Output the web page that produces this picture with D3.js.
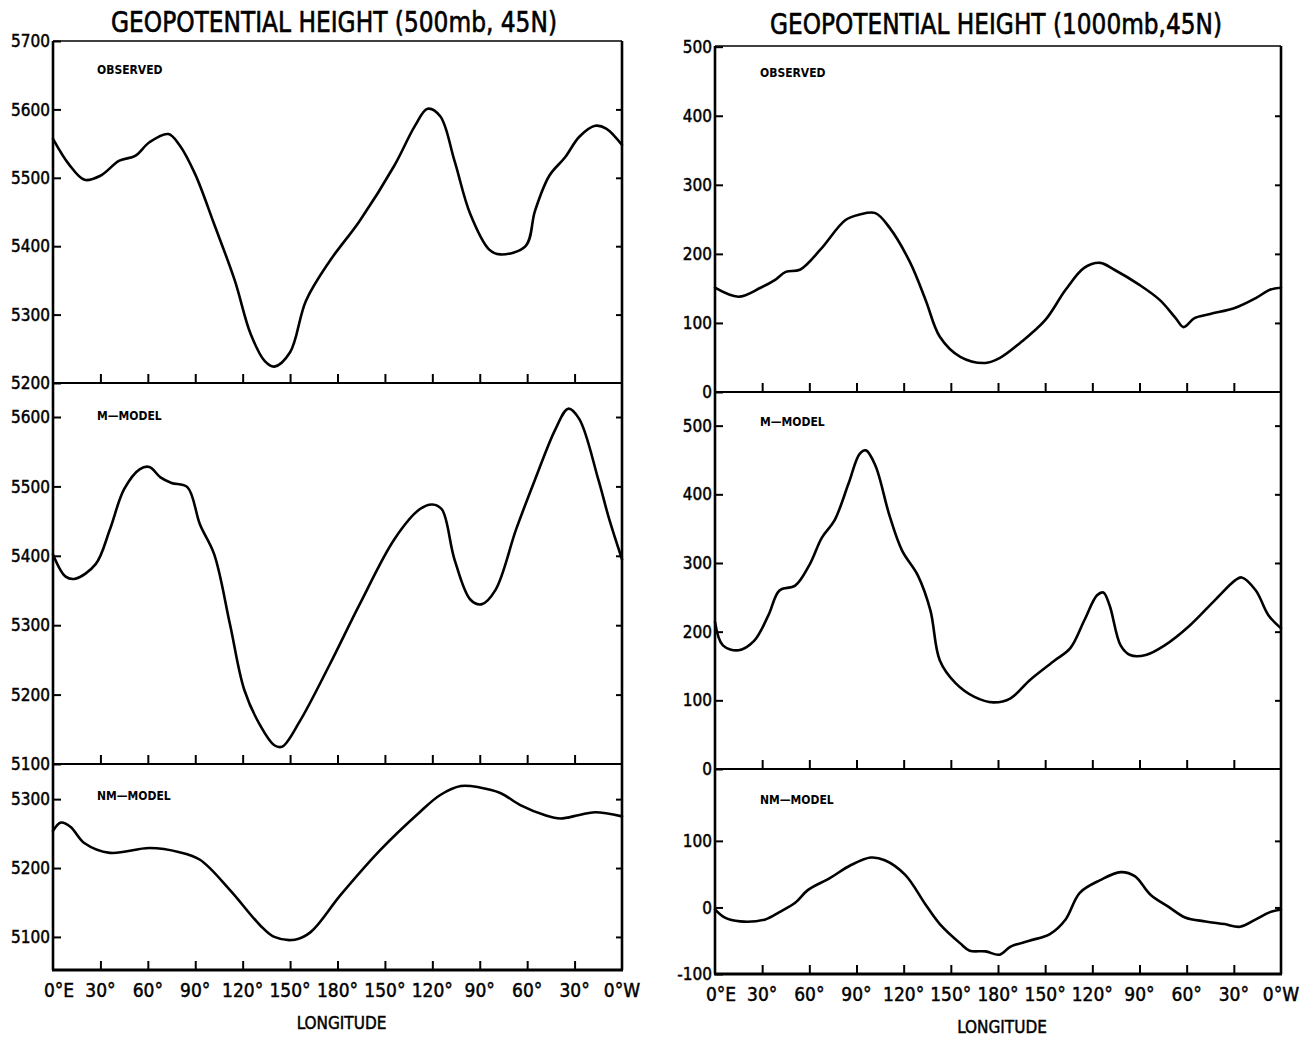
<!DOCTYPE html>
<html>
<head>
<meta charset="utf-8">
<script src="https://cdn.jsdelivr.net/npm/d3@7"></script>
<style>
  html, body { margin: 0; padding: 0; background: #fff; }
  svg { display: block; }
  .num { font-family: "Liberation Sans Narrow", "DejaVu Sans Condensed", "Arial Narrow", sans-serif; fill: #000; stroke: #000; stroke-width: 0.45px; }
  .ttl { font-family: "Liberation Sans Narrow", "DejaVu Sans Condensed", sans-serif; fill: #000; stroke: #000; stroke-width: 0.6px; }
  .lbl { font-family: "DejaVu Sans Condensed", "Liberation Sans Narrow", sans-serif; font-weight: bold; fill: #000; }
</style>
</head>
<body>
<svg id="chart" width="1312" height="1039"></svg>
<script>
// ---- longitude axis -------------------------------------------------------
// Longitude measured eastward from Greenwich, 0..360 degrees.
const lonTicks = [0, 30, 60, 90, 120, 150, 180, 210, 240, 270, 300, 330, 360];
const lonTickLabels = ["0°E", "30°", "60°", "90°", "120°", "150°", "180°", "150°", "120°", "90°", "60°", "30°", "0°W"];

// ---- 500 mb geopotential height (m) at 45N -----------------------------------
const obs500 = [[0,5557],[10,5520],[20,5497],[30,5503],[42,5525],[52,5532],[61,5552],[73,5564],[80,5548],[90,5505],
  [102,5432],[115,5350],[125,5272],[134,5232],[140,5224],[150,5245],[160,5320],[175,5378],[194,5437],[216,5518],
  [229,5576],[237,5601],[245,5590],[254,5525],[264,5447],[276,5395],[283,5388],[299,5400],[305,5452],[314,5503],
  [324,5530],[333,5560],[343,5576],[350,5572],[360,5548]];
const mModel500 = [[0,5402],[8,5370],[14,5367],[27,5388],[36,5438],[45,5496],[55,5525],[61,5528],[68,5513],[75,5505],
  [85,5499],[93,5445],[102,5402],[112,5301],[121,5207],[131,5156],[140,5127],[145,5125],[156,5161],[175,5243],
  [194,5330],[216,5424],[232,5467],[240,5474],[246,5467],[254,5395],[264,5337],[271,5330],[280,5351],[293,5438],
  [305,5510],[318,5583],[326,5612],[333,5597],[345,5510],[352,5452],[360,5395]];
const nmModel500 = [[0,5254],[5,5266],[11,5260],[20,5236],[36,5222],[61,5229],[80,5223],[93,5212],[112,5168],
  [131,5117],[140,5100],[153,5096],[163,5107],[182,5161],[207,5226],[232,5281],[245,5306],[258,5319],[270,5317],
  [283,5309],[296,5291],[311,5277],[321,5272],[333,5277],[343,5281],[360,5275]];

// ---- 1000 mb geopotential height (m) at 45N ----------------------------------
const obs1000 = [[0,151],[15,138],[29,151],[38,162],[45,174],[54,177],[67,206],[83,249],[92,257],[102,259],[111,238],
  [124,188],[134,133],[143,80],[156,51],[172,42],[181,49],[194,71],[210,104],[223,148],[235,180],[245,187],[254,177],
  [270,155],[283,133],[293,107],[298,94],[305,107],[315,113],[331,122],[344,136],[353,148],[360,151]];
const mModel1000 = [[0,214],[5,180],[15,173],[25,187],[34,224],[41,260],[51,267],[60,297],[68,337],[76,362],[85,416],
  [92,459],[96,464],[102,442],[111,369],[119,318],[129,282],[137,231],[143,158],[153,125],[165,105],[177,97],[188,103],
  [200,129],[216,158],[226,176],[235,217],[243,253],[247,257],[251,238],[258,180],[264,166],[274,166],[286,180],
  [302,209],[318,246],[331,275],[335,279],[344,260],[352,224],[360,205]];
const nmModel1000 = [[0,-3],[6,-15],[16,-21],[32,-18],[41,-7],[51,7],[59,26],[73,44],[86,63],[99,75],[108,71],[121,49],
  [134,4],[143,-25],[156,-54],[162,-65],[172,-66],[181,-71],[188,-59],[200,-50],[213,-40],[223,-18],[232,22],[245,41],
  [258,53],[267,47],[277,19],[289,0],[299,-15],[312,-21],[324,-25],[334,-29],[344,-18],[353,-7],[360,-3]];

// ---- panel tick values ------------------------------------------------------
const ticksObs500 = [5200, 5300, 5400, 5500, 5600, 5700];
const ticksM500 = [5100, 5200, 5300, 5400, 5500, 5600];
const ticksNM500 = [5100, 5200, 5300];
const ticksObs1000 = [0, 100, 200, 300, 400, 500];
const ticksM1000 = [0, 100, 200, 300, 400, 500];
const ticksNM1000 = [-100, 0, 100];

const svg = d3.select("#chart");

const charts = [
  {
    title: "GEOPOTENTIAL HEIGHT (500mb, 45N)", titleX: 334, titleW: 446, titleY: 32,
    x0: 53, x1: 622, labelX: 97,
    panels: [
      { name: "OBSERVED", data: obs500, ticks: ticksObs500, domain: [5200, 5700], top: 41, bottom: 383, labelY: 74 },
      { name: "M—MODEL", data: mModel500, ticks: ticksM500, domain: [5100, 5649], top: 383, bottom: 764, labelY: 420 },
      { name: "NM—MODEL", data: nmModel500, ticks: ticksNM500, domain: [5052, 5351], top: 764, bottom: 970, labelY: 800 }
    ]
  },
  {
    title: "GEOPOTENTIAL HEIGHT (1000mb,45N)", titleX: 996, titleW: 452, titleY: 34,
    x0: 715, x1: 1281, labelX: 760,
    panels: [
      { name: "OBSERVED", data: obs1000, ticks: ticksObs1000, domain: [0, 501], top: 46, bottom: 392, labelY: 77 },
      { name: "M—MODEL", data: mModel1000, ticks: ticksM1000, domain: [0, 549], top: 392, bottom: 769, labelY: 426 },
      { name: "NM—MODEL", data: nmModel1000, ticks: ticksNM1000, domain: [-100, 208], top: 769, bottom: 974, labelY: 804 }
    ]
  }
];

charts.forEach(c => {
  const g = svg.append("g");
  const x = d3.scaleLinear().domain([0, 360]).range([c.x0, c.x1]);

  g.append("text").attr("class", "ttl")
    .attr("x", c.titleX).attr("y", c.titleY)
    .attr("text-anchor", "middle")
    .attr("font-size", 29)
    .attr("textLength", c.titleW).attr("lengthAdjust", "spacingAndGlyphs")
    .text(c.title);

  c.panels.forEach((p, i) => {
    const y = d3.scaleLinear().domain(p.domain).range([p.bottom, p.top]);

    // left axis: inward ticks, labels outside
    const left = g.append("g").attr("transform", `translate(${c.x0},0)`)
      .call(d3.axisRight(y).tickValues(p.ticks).tickSize(8).tickFormat(""));
    left.select(".domain").remove();
    left.selectAll(".tick line").attr("stroke", "#000").attr("stroke-width", 2);
    g.selectAll(null).data(p.ticks).enter().append("text")
      .attr("class", "num")
      .attr("x", c.x0 - 3).attr("y", d => y(d))
      .attr("dy", "0.36em").attr("text-anchor", "end")
      .attr("font-size", 17)
      .text(d => String(d));

    // right axis: inward ticks
    const right = g.append("g").attr("transform", `translate(${c.x1},0)`)
      .call(d3.axisLeft(y).tickValues(p.ticks.filter(t => y(t) > p.top + 3 && y(t) < p.bottom - 3)).tickSize(6).tickFormat(""));
    right.select(".domain").remove();
    right.selectAll(".tick line").attr("stroke", "#000").attr("stroke-width", 2);

    // baseline of the panel with upward longitude ticks
    const bottomAxis = g.append("g").attr("transform", `translate(0,${p.bottom})`)
      .call(d3.axisTop(x).tickValues(lonTicks.slice(1, -1)).tickSize(9).tickFormat(""));
    bottomAxis.select(".domain").remove();
    bottomAxis.selectAll(".tick line").attr("stroke", "#000").attr("stroke-width", 2);
    g.append("line")
      .attr("x1", c.x0 - 1).attr("x2", c.x1 + 1)
      .attr("y1", p.bottom).attr("y2", p.bottom)
      .attr("stroke", "#000").attr("stroke-width", i === 2 ? 3 : 2.2);

    // panel name
    g.append("text").attr("class", "lbl")
      .attr("x", c.labelX).attr("y", p.labelY)
      .attr("font-size", 12)
      .text(p.name);

    // the height curve
    const line = d3.line()
      .x(d => x(d[0])).y(d => y(d[1]))
      .curve(d3.curveCatmullRom.alpha(0.5));
    g.append("path").datum(p.data)
      .attr("d", line)
      .attr("fill", "none").attr("stroke", "#000")
      .attr("stroke-width", 2.6).attr("stroke-linejoin", "round").attr("stroke-linecap", "round");
  });

  const top = c.panels[0].top, bottom = c.panels[2].bottom;
  // frame: top and side borders
  g.append("line").attr("x1", c.x0).attr("x2", c.x1).attr("y1", top).attr("y2", top)
    .attr("stroke", "#000").attr("stroke-width", 1.6);
  g.append("line").attr("x1", c.x0).attr("x2", c.x0).attr("y1", top).attr("y2", bottom)
    .attr("stroke", "#000").attr("stroke-width", 2.6);
  g.append("line").attr("x1", c.x1).attr("x2", c.x1).attr("y1", top).attr("y2", bottom)
    .attr("stroke", "#000").attr("stroke-width", 2.6);

  // longitude labels
  g.selectAll(null).data(lonTicks).enter().append("text")
    .attr("class", "num")
    .attr("x", (d, i) => x(d) + (i === 0 ? 6 : 0))
    .attr("y", bottom + 27)
    .attr("text-anchor", "middle")
    .attr("font-size", 19)
    .text((d, i) => lonTickLabels[i]);

  g.append("text").attr("class", "num")
    .attr("x", (c.x0 + c.x1) / 2 + 4).attr("y", bottom + 59)
    .attr("text-anchor", "middle")
    .attr("font-size", 17)
    .text("LONGITUDE");
});
</script>
</body>
</html>
